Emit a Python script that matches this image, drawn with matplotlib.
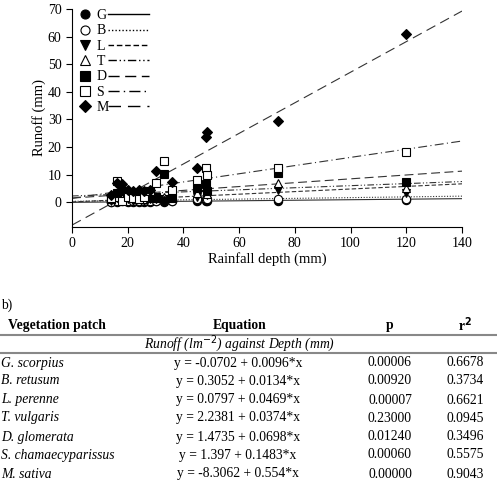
import matplotlib.pyplot as plt
from matplotlib.lines import Line2D
import numpy as np

plt.rcParams['font.family'] = ['Liberation Serif', 'DejaVu Serif']

# rainfall events (mm)
rainfall = [14, 16, 18, 20, 22, 24, 26, 28, 30, 33, 36, 45, 48, 48.5, 74, 120]

# runoff (mm) per vegetation patch
runoff_G = [0.0, 0.2, 0.3, 0.1, 0.2, 0.1, 0.2, 0.1, 0.3, 0.2, 0.3, 0.5, 0.6, 0.5, 0.6, 0.8]
runoff_B = [0.2, 0.5, 0.8, 0.3, 0.5, 0.6, 0.3, 0.5, 0.4, 0.5, 0.5, 1.0, 1.0, 1.2, 1.2, 1.3]
runoff_L = [0.5, 1.5, 1.0, 1.0, 0.5, 1.0, 0.5, 1.0, 1.0, 1.0, 2.0, 2.0, 3.0, 2.5, 4.3, 3.3]
runoff_T = [1.0, 2.0, 1.5, 2.0, 1.5, 1.0, 1.0, 1.5, 1.5, 2.0, 3.0, 3.5, 5.5, 3.0, 6.8, 5.0]
runoff_D = [1.0, 3.5, 4.0, 3.0, 2.5, 3.0, 2.5, 2.0, 2.0, 10.2, 1.5, 5.0, 6.5, 4.0, 10.5, 7.2]
runoff_S = [1.5, 7.8, 0.5, 2.0, 1.5, 1.0, 2.0, 4.0, 7.0, 15.0, 4.5, 8.0, 12.3, 10.0, 12.3, 18.0]
runoff_M = [2.5, 7.0, 6.5, 4.5, 4.0, 4.5, 4.0, 4.5, 11.2, 0.3, 7.2, 12.3, 23.5, 25.5, 29.5, 61.0]

codes = ["G", "B", "L", "T", "D", "S", "M"]
species = ["G. scorpius", "B. retusum", "L. perenne", "T. vulgaris",
           "D. glomerata", "S. chamaecyparissus", "M. sativa"]
intercepts = [-0.0702, 0.3052, 0.0797, 2.2381, 1.4735, 1.397, -8.3062]
slopes = [0.0096, 0.0134, 0.0469, 0.0374, 0.0698, 0.1483, 0.554]
p_values = ["0.00006", "0.00920", "0.00007", "0.23000", "0.01240", "0.00060", "0.00000"]
r2_values = ["0.6678", "0.3734", "0.6621", "0.0945", "0.3496", "0.5575", "0.9043"]
equations = ["y = -0.0702 + 0.0096*x", "y = 0.3052 + 0.0134*x", "y = 0.0797 + 0.0469*x",
             "y = 2.2381 + 0.0374*x", "y = 1.4735 + 0.0698*x", "y = 1.397 + 0.1483*x",
             "y = -8.3062 + 0.554*x"]

runoffs = [runoff_G, runoff_B, runoff_L, runoff_T, runoff_D, runoff_S, runoff_M]
markers = ["o", "o", "v", "^", "s", "s", "D"]
filled = [True, False, True, False, True, False, True]
msizes = [6, 6, 6, 6, 5.5, 6, 5.5]
lstyles = ["-", (0, (1, 1.5)), (0, (4, 2)), (0, (6, 2, 1, 2, 1, 2)),
           (0, (8, 4)), (0, (8, 3, 1, 3)), (0, (9, 5))]

fig = plt.figure(figsize=(4.97, 4.84), dpi=100)
ax = fig.add_axes([72 / 497, 1 - 227 / 484, 390 / 497, 218 / 484])

xline = np.array([0, 140])
for i in range(7):
    ax.plot(xline, intercepts[i] + slopes[i] * xline, color="#333333",
            lw=0.8, ls=lstyles[i], zorder=2)

for i in range(7):
    ax.plot(rainfall, runoffs[i], ls="none", marker=markers[i], ms=msizes[i],
            mfc="black" if filled[i] else "white", mec="black", mew=0.8, zorder=3)

ax.set_xlim(0, 140)
ax.set_ylim(-9, 70)
ax.set_xticks(range(0, 141, 20))
ax.set_yticks(range(0, 71, 10))
ax.spines["top"].set_visible(False)
ax.spines["right"].set_visible(False)
ax.tick_params(direction="out", length=4, width=0.8, labelsize=10)
ax.set_xlabel("Rainfall depth (mm)", fontsize=10.5, labelpad=1)
ax.set_ylabel("Runoff (mm)", fontsize=10.5, labelpad=1)

# legend: marker + code, then line sample
mk_handles = [Line2D([], [], ls="none", marker=markers[i], ms=6.5,
                     mfc="black" if filled[i] else "white", mec="black", mew=0.8)
              for i in range(7)]
ln_handles = [Line2D([], [], color="black", lw=1.0, ls=lstyles[i]) for i in range(7)]
leg1 = ax.legend(mk_handles, codes, loc="upper left", bbox_to_anchor=(0.02, 1.0),
                 frameon=False, fontsize=10, handlelength=0.8, handletextpad=0.4,
                 labelspacing=0.17, borderaxespad=0, borderpad=0)
ax.add_artist(leg1)
ax.legend(ln_handles, [""] * 7, loc="upper left", bbox_to_anchor=(0.093, 1.0),
          frameon=False, fontsize=10, handlelength=2.9, handletextpad=0,
          labelspacing=0.17, borderaxespad=0, borderpad=0)

# table
W, H = 497, 484


def fy(y):
    return 1 - y / H


fs = 9.8
fig.text(1 / W, fy(305), "b)", fontsize=fs, va="center")
fig.text(57 / W, fy(325), "Vegetation patch", fontsize=fs, weight="bold", ha="center", va="center")
fig.text(240 / W, fy(325), "Equation", fontsize=fs, weight="bold", ha="center", va="center")
fig.text(390 / W, fy(325), "p", fontsize=fs, weight="bold", ha="center", va="center")
fig.text(465 / W, fy(325), r"r$^\mathbf{2}$", fontsize=fs, weight="bold", ha="center", va="center")
for yl in (335, 353):
    fig.add_artist(Line2D([0, 1], [fy(yl), fy(yl)], color="#888888", lw=1.5,
                          transform=fig.transFigure))
fig.text(240 / W, fy(344), r"Runoff (lm$^{-2}$) against Depth (mm)", fontsize=fs,
         style="italic", ha="center", va="center")
row_y = [363, 381, 400, 418, 437, 455, 474]
for i in range(7):
    fig.text(1 / W, fy(row_y[i]), species[i], fontsize=fs, style="italic", va="center")
    fig.text(238 / W, fy(row_y[i]), equations[i], fontsize=fs, ha="center", va="center")
    fig.text(390 / W, fy(row_y[i]), p_values[i], fontsize=fs, ha="center", va="center")
    fig.text(465 / W, fy(row_y[i]), r2_values[i], fontsize=fs, ha="center", va="center")

fig.savefig("out.png", dpi=100)
